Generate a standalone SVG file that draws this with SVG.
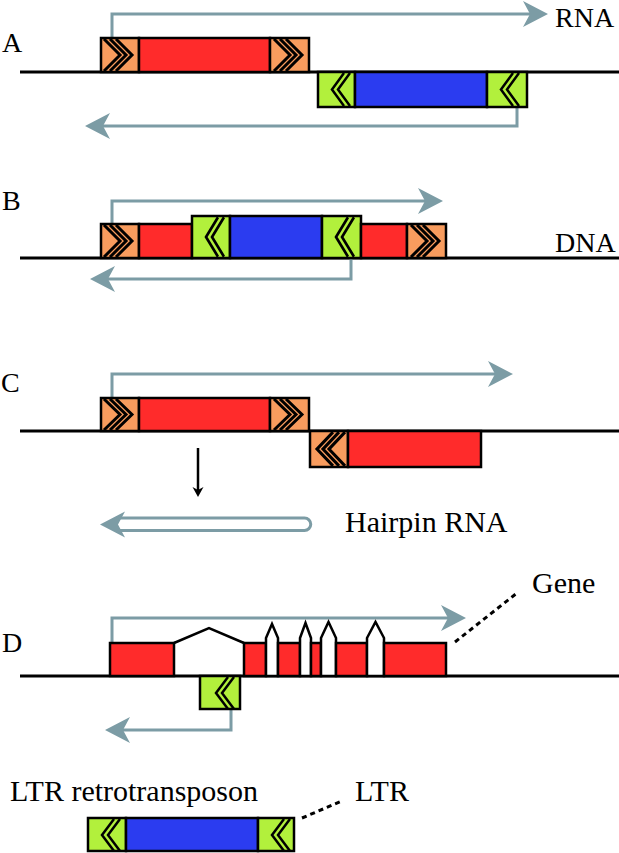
<svg xmlns="http://www.w3.org/2000/svg" width="619" height="853" viewBox="0 0 619 853">
<style>
text{font-family:'Liberation Serif','DejaVu Serif',serif;font-size:28px;fill:#000}
text.big{font-size:30px}
.dna{stroke:#000;stroke-width:3;fill:none}
.box{stroke:#000;stroke-width:2.5}
.or{fill:#F89C5E}
.rd{fill:#FF2B2B}
.gr{fill:#B2F03C}
.bl{fill:#2B3CF0}
.chev{stroke:#000;stroke-width:3;fill:none}
.chevg{stroke:#000;stroke-width:2.5;fill:none}
.rna{stroke:#7C9CA5;stroke-width:3;fill:none}
.dash{stroke:#000;stroke-width:3;stroke-dasharray:5 4;fill:none}
.intr{fill:#fff;stroke:#000;stroke-width:2.5}
</style>
<defs>
<marker id="ah" markerUnits="userSpaceOnUse" markerWidth="26" markerHeight="26" refX="19" refY="13" orient="auto" overflow="visible">
<path d="M0,0 L25,13 L0,26 L7,13 Z" fill="#7C9CA5"/>
</marker>
<path id="chevR" class="chev" d="M3,1 L19,17 L3,33 M9,1 L25,17 L9,33 M15,1 L31,17 L15,33"/>
<path id="chevL" class="chev" d="M35,1 L19,17 L35,33 M29,1 L13,17 L29,33 M23,1 L7,17 L23,33"/>
<path id="chevG" class="chevg" d="M26,1 L14,17 L26,33 M32,1 L20,17 L32,33"/>
</defs>

<g id="dna-lines">
<line class="dna" x1="20" y1="72" x2="619" y2="72"/>
<line class="dna" x1="20" y1="258" x2="619" y2="258"/>
<line class="dna" x1="20" y1="431" x2="619" y2="431"/>
<line class="dna" x1="20" y1="676" x2="619" y2="676"/>
</g>

<g id="connectors">
<path class="rna" d="M112,38 V14 H542" marker-end="url(#ah)"/>
<path class="rna" d="M517,107 V126 H91" marker-end="url(#ah)"/>
<path class="rna" d="M112,224 V201 H437" marker-end="url(#ah)"/>
<path class="rna" d="M351,258 V279 H96" marker-end="url(#ah)"/>
<path class="rna" d="M112,398 V374 H507" marker-end="url(#ah)"/>
<path class="rna" d="M112,643 V618 H460" marker-end="url(#ah)"/>
<path class="rna" d="M231,709 V730 H111" marker-end="url(#ah)"/>
<g id="hairpin">
<path class="rna" d="M116,518 H304.5 A6.25,6.25 0 0 1 304.5,530.5 H116"/>
<path d="M100,524.5 L125,511.5 L118,524.5 L125,537.5 Z" fill="#7C9CA5"/>
</g>
<g id="down-arrow">
<line x1="198" y1="448" x2="198" y2="491" stroke="#000" stroke-width="2.5"/>
<path d="M192.5,487 L198,497 L203.5,487 L198,490 Z" fill="#000"/>
</g>
<path class="dash" d="M455,642 L517,593"/>
<path class="dash" d="M302,818 L342,801"/>
</g>

<g id="label-A"><text x="2" y="52">A</text></g>
<g id="label-RNA"><text x="555" y="27">RNA</text></g>
<g id="label-B"><text x="2" y="210">B</text></g>
<g id="label-DNA"><text x="555" y="252">DNA</text></g>
<g id="label-C"><text x="1" y="392">C</text></g>
<g id="label-hairpin"><text class="big" x="345" y="532">Hairpin RNA</text></g>
<g id="label-D"><text x="2" y="652">D</text></g>
<g id="label-gene"><text class="big" x="532" y="593">Gene</text></g>
<g id="label-retro"><text class="big" x="10" y="801">LTR retrotransposon</text></g>
<g id="label-LTR"><text class="big" x="355" y="801">LTR</text></g>

<g id="A-element1">
<rect class="box or" x="101" y="38" width="38" height="34"/>
<rect class="box rd" x="139" y="38" width="131" height="34"/>
<rect class="box or" x="270" y="38" width="39" height="34"/>
<use href="#chevR" transform="translate(101,38)"/>
<use href="#chevR" transform="translate(271,38)"/>
</g>
<g id="A-element2">
<rect class="box gr" x="318" y="72" width="37" height="35"/>
<rect class="box bl" x="355" y="72" width="132" height="35"/>
<rect class="box gr" x="487" y="72" width="40" height="35"/>
<use href="#chevG" transform="translate(318,72) scale(1,1.03)"/>
<use href="#chevG" transform="translate(487,72) scale(1,1.03)"/>
</g>

<g id="B-element">
<rect class="box or" x="101" y="224" width="38" height="34"/>
<rect class="box rd" x="139" y="224" width="53" height="34"/>
<rect class="box gr" x="192" y="216" width="38" height="42"/>
<rect class="box bl" x="230" y="216" width="92" height="42"/>
<rect class="box gr" x="322" y="216" width="39" height="42"/>
<rect class="box rd" x="361" y="224" width="46" height="34"/>
<rect class="box or" x="407" y="224" width="39" height="34"/>
<use href="#chevR" transform="translate(101,224)"/>
<use href="#chevG" transform="translate(192,216) scale(1,1.235)"/>
<use href="#chevG" transform="translate(322,216) scale(1,1.235)"/>
<use href="#chevR" transform="translate(408,224)"/>
</g>

<g id="C-element1">
<rect class="box or" x="101" y="398" width="38" height="33"/>
<rect class="box rd" x="139" y="398" width="131" height="33"/>
<rect class="box or" x="270" y="398" width="39" height="33"/>
<use href="#chevR" transform="translate(101,398) scale(1,0.97)"/>
<use href="#chevR" transform="translate(271,398) scale(1,0.97)"/>
</g>
<g id="C-element2">
<rect class="box or" x="310" y="431" width="38" height="36"/>
<rect class="box rd" x="348" y="431" width="133" height="36"/>
<use href="#chevL" transform="translate(310,431) scale(1,1.06)"/>
</g>

<g id="D-gene">
<rect class="box rd" x="110" y="643" width="64" height="33"/>
<polyline points="174,643 209,628 244,643" fill="none" stroke="#000" stroke-width="2.5"/>
<rect class="box rd" x="244" y="643" width="22" height="33"/>
<polygon class="intr" points="266,676 266,638 272,624 278,638 278,676"/>
<rect class="box rd" x="278" y="643" width="22" height="33"/>
<polygon class="intr" points="300,676 300,638 305.5,623 311,638 311,676"/>
<rect class="box rd" x="311" y="643" width="10" height="33"/>
<polygon class="intr" points="321,676 321,638 328.5,622 336,638 336,676"/>
<rect class="box rd" x="336" y="643" width="31" height="33"/>
<polygon class="intr" points="367,676 367,638 375.5,622 384,638 384,676"/>
<rect class="box rd" x="384" y="643" width="62" height="33"/>
</g>
<g id="D-LTR">
<rect class="box gr" x="200" y="676" width="40" height="33"/>
<use href="#chevG" transform="translate(202,676)"/>
</g>

<g id="LTR-retrotransposon">
<rect class="box gr" x="88" y="818" width="38" height="33"/>
<rect class="box bl" x="126" y="818" width="132" height="33"/>
<rect class="box gr" x="258" y="818" width="36" height="33"/>
<use href="#chevG" transform="translate(88,818)"/>
<use href="#chevG" transform="translate(258,818)"/>
</g>
</svg>
